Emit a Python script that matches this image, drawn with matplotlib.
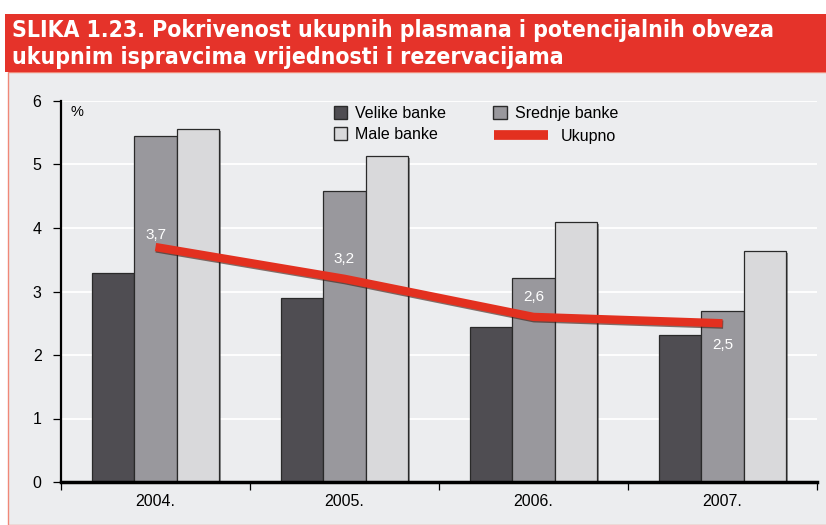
import matplotlib.pyplot as plt
import matplotlib.patheffects as pe
from matplotlib.patches import Rectangle, Patch
from matplotlib.lines import Line2D
import numpy as np

# --- datos ---
godine = ['2004.', '2005.', '2006.', '2007.']
velike = [3.29, 2.90, 2.44, 2.31]
srednje = [5.45, 4.58, 3.21, 2.69]
male = [5.56, 5.13, 4.09, 3.64]
ukupno = [3.7, 3.2, 2.6, 2.5]
ukupno_txt = ['3,7', '3,2', '2,6', '2,5']
y_ticks = [0, 1, 2, 3, 4, 5, 6]

# --- estilo ---
plt.rcParams['font.family'] = ['Liberation Sans', 'DejaVu Sans']
C_VEL, C_SRE, C_MAL = '#4F4D52', '#99989D', '#D9D9DB'
C_RED = '#E3301F'
C_BG = '#ECEDEF'

W, H = 826, 525
fig = plt.figure(figsize=(W / 100, H / 100), dpi=100)
fig.patch.set_facecolor('white')

# panel gris y banda de titulo
fig.patches.append(Rectangle((8 / W, 0), 1, 1 - 72 / H, transform=fig.transFigure,
                             facecolor=C_BG, edgecolor='#F08878', linewidth=1, zorder=-2))
fig.patches.append(Rectangle((5 / W, 1 - 72 / H), 1, 58 / H, transform=fig.transFigure,
                             facecolor='#E5332A', edgecolor='none', zorder=-1))
fig.text(12 / W, 1 - 44 / H, 'SLIKA 1.23. Pokrivenost ukupnih plasmana i potencijalnih obveza\n'
         'ukupnim ispravcima vrijednosti i rezervacijama',
         color='white', fontsize=16.5, fontweight='bold', va='center', ha='left',
         family=['DejaVu Sans'], fontstretch='condensed', linespacing=1.2)

ax = fig.add_axes([61 / W, 1 - 482 / H, (817 - 61) / W, (482 - 101) / H])
ax.set_facecolor(C_BG)

x = np.arange(len(godine))
bw = 0.225
sombra = [pe.SimplePatchShadow(offset=(1.2, -1.2), shadow_rgbFace='k', alpha=0.4), pe.Normal()]
for off, vals, col in [(-bw, velike, C_VEL), (0, srednje, C_SRE), (bw, male, C_MAL)]:
    ax.bar(x + off, vals, bw, color=col, edgecolor='#2A2A2A', linewidth=0.9, zorder=3,
           path_effects=sombra)

ax.plot(x, ukupno, color=C_RED, linewidth=6, solid_capstyle='butt', zorder=5,
        path_effects=[pe.SimpleLineShadow(offset=(0.5, -1.0), shadow_color='#3A1A10', alpha=0.6),
                      pe.Normal()])

offs = [9, 14, 14, -16]
for xi, v, t, o in zip(x, ukupno, ukupno_txt, offs):
    ax.annotate(t, (xi, v), xytext=(0, o), textcoords='offset points', ha='center',
                va='center', color='white', fontsize=11, zorder=6)

ax.set_xlim(-0.5, 3.5)
ax.set_ylim(0, 6)
ax.set_yticks(y_ticks)
ax.tick_params(axis='y', direction='out', length=6, width=0.9, labelsize=11.5, pad=8)
ax.set_xticks(x)
ax.set_xticklabels(godine)
ax.set_xticks(np.arange(-0.5, 4, 1), minor=True)
ax.tick_params(axis='x', which='major', length=0, labelsize=11.5, pad=9)
ax.tick_params(axis='x', which='minor', direction='out', length=6, width=0.9)
for yv in y_ticks[1:]:
    ax.axhline(yv, color='white', linewidth=1.3, zorder=1)
for s in ['top', 'right']:
    ax.spines[s].set_visible(False)
ax.spines['left'].set_linewidth(1.6)
ax.spines['bottom'].set_linewidth(2.5)
ax.spines['bottom'].set_zorder(4)
ax.text(0.012, 0.99, '%', transform=ax.transAxes, fontsize=10.5, va='top', ha='left')

# leyendas
h1 = [Patch(facecolor=C_VEL, edgecolor='#2A2A2A', label='Velike banke'),
      Patch(facecolor=C_MAL, edgecolor='#2A2A2A', label='Male banke'),
      Patch(facecolor=C_SRE, edgecolor='#2A2A2A', label='Srednje banke')]
fig.legend(handles=h1, ncol=2, loc='upper left', bbox_to_anchor=(321 / W, 1 - 93 / H),
           frameon=False, fontsize=11.5, handlelength=0.85, handleheight=0.85,
           handletextpad=0.5, columnspacing=2.95, labelspacing=0.4, borderpad=0.3)
h2 = [Line2D([], [], color=C_RED, linewidth=7, solid_capstyle='butt', label='Ukupno')]
fig.legend(handles=h2, loc='upper left', bbox_to_anchor=(481 / W, 1 - 116 / H),
           frameon=False, fontsize=11.5, handlelength=3.4, handletextpad=0.8, borderpad=0.3)

fig.savefig('out.png', dpi=100)
